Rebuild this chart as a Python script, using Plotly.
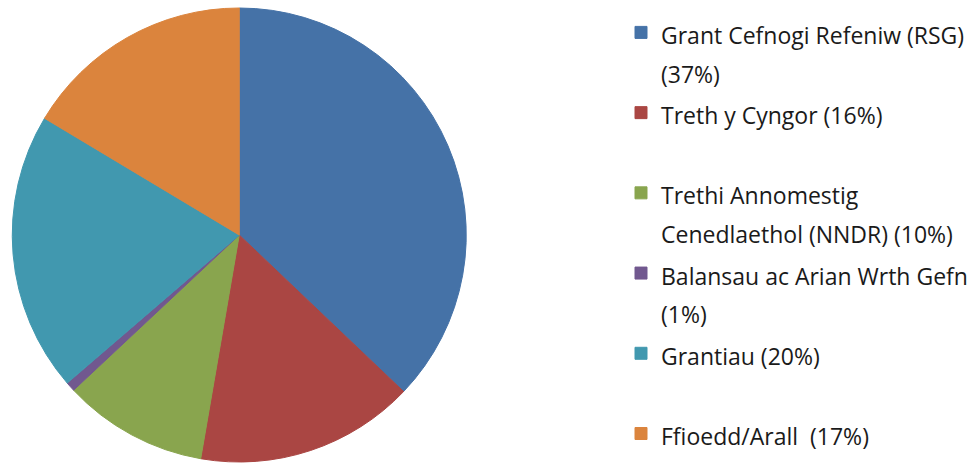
import plotly.graph_objects as go

# Data
labels = [
    "Grant Cefnogi Refeniw (RSG)<br>(37%)",
    "Treth y Cyngor (16%)<br>\u00a0",
    "Trethi Annomestig<br>Cenedlaethol (NNDR) (10%)",
    "Balansau ac Arian Wrth Gefn<br>(1%)",
    "Grantiau (20%)<br>\u00a0",
    "Ffioedd/Arall  (17%)",
]
values = [37.1, 15.6, 10.3, 0.67, 19.9, 16.4]
colors = ["#4572A7", "#AA4643", "#89A54E", "#71588F", "#4198AF", "#DB843D"]

W, H = 979, 463
TEXT_PX = 23


def styled(label):
    return "<br>".join(
        f'<span style="font-size:{TEXT_PX}px">{part}</span>' for part in label.split("<br>")
    )


fig = go.Figure(
    go.Pie(
        labels=[styled(l) for l in labels],
        values=values,
        marker=dict(colors=colors, line=dict(color=colors, width=1)),
        sort=False,
        direction="clockwise",
        rotation=0,
        textinfo="none",
        hoverinfo="label+percent",
        domain=dict(x=[11.5 / W, 467 / W], y=[1 - 462 / H, 1 - 8 / H]),
    )
)

fig.update_layout(
    width=W,
    height=H,
    margin=dict(l=0, r=0, t=0, b=0),
    paper_bgcolor="white",
    plot_bgcolor="white",
    showlegend=True,
    legend=dict(
        x=621 / W,
        y=1 - 6.6 / H,
        xanchor="left",
        yanchor="top",
        valign="top",
        font=dict(family="Open Sans, Arial, sans-serif", size=29.7, color="#1a1a1a"),
        bgcolor="rgba(0,0,0,0)",
    ),
)

fig.write_html(
    "out.html",
    config={"displayModeBar": False},
    post_script="document.body.style.margin='0';document.body.style.overflow='hidden';",
)
